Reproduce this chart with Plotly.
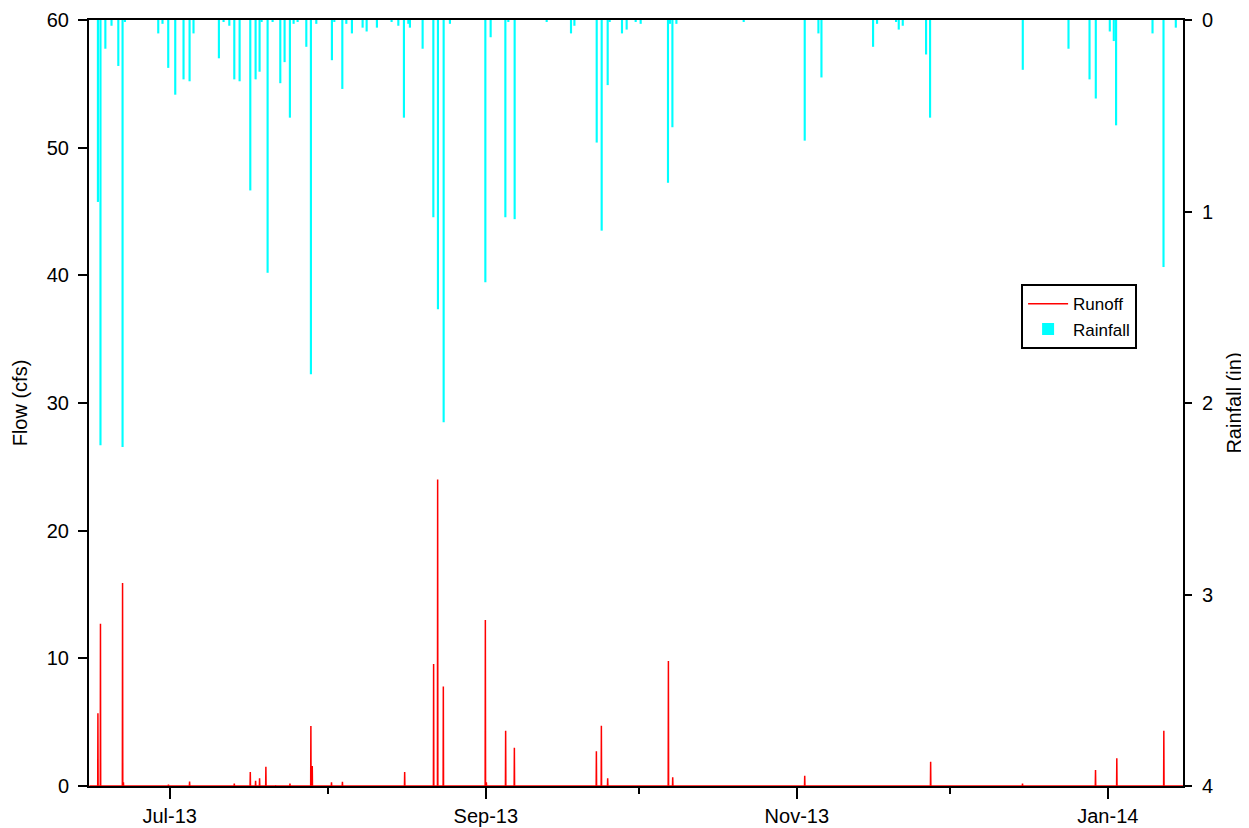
import pandas as pd
import plotly.graph_objects as go

# 降雨（英寸），按时间
RAIN_TIME = [
    '2013-06-16 22:00', '2013-06-17 10:00', '2013-06-18 09:00', '2013-06-19 14:00',
    '2013-06-20 22:00', '2013-06-21 18:00', '2013-06-22 05:00', '2013-06-28 18:00',
    '2013-06-29 14:00', '2013-06-30 17:00', '2013-07-02 02:00', '2013-07-03 17:00',
    '2013-07-04 21:30', '2013-07-05 16:00', '2013-07-10 15:30', '2013-07-11 13:30',
    '2013-07-12 16:30', '2013-07-13 16:00', '2013-07-14 17:00', '2013-07-16 19:15',
    '2013-07-17 20:15', '2013-07-18 15:00', '2013-07-19 00:30', '2013-07-20 04:45',
    '2013-07-21 04:15', '2013-07-22 16:30', '2013-07-23 12:45', '2013-07-24 13:45',
    '2013-07-25 07:10', '2013-07-26 02:00', '2013-07-27 19:00', '2013-07-28 16:40',
    '2013-07-29 18:00', '2013-08-01 19:30', '2013-08-02 06:50', '2013-08-03 20:30',
    '2013-08-04 15:20', '2013-08-05 17:40', '2013-08-07 20:00', '2013-08-08 15:00',
    '2013-08-10 15:20', '2013-08-13 12:30', '2013-08-14 20:10', '2013-08-15 22:30',
    '2013-08-16 19:15', '2013-08-17 02:45', '2013-08-19 14:30', '2013-08-21 17:00',
    '2013-08-22 14:40', '2013-08-23 17:30', '2013-08-24 23:00', '2013-08-31 21:50',
    '2013-09-01 22:45', '2013-09-04 20:00', '2013-09-05 10:00', '2013-09-06 15:45',
    '2013-09-12 22:30', '2013-09-17 17:00', '2013-09-18 09:00', '2013-09-22 18:00',
    '2013-09-23 17:25', '2013-09-24 21:40', '2013-09-25 07:00', '2013-09-27 17:00',
    '2013-09-28 15:00', '2013-09-30 09:30', '2013-10-01 09:00', '2013-10-06 17:35',
    '2013-10-07 03:00', '2013-10-07 14:20', '2013-10-08 09:10', '2013-10-21 14:00',
    '2013-11-02 13:15', '2013-11-05 05:45', '2013-11-05 20:00', '2013-11-15 23:00',
    '2013-11-16 17:45', '2013-11-20 11:15', '2013-11-20 23:55', '2013-11-21 18:45',
    '2013-11-26 08:30', '2013-11-27 03:20', '2013-12-15 07:45', '2013-12-24 07:00',
    '2013-12-28 10:00', '2013-12-29 15:30', '2014-01-01 09:25', '2014-01-02 04:15',
    '2014-01-02 15:00', '2014-01-09 18:30', '2014-01-11 22:15', '2014-01-14 08:10',
]
RAIN_IN = [
    0.95, 2.22, 0.15, 0.03, 0.24, 2.23, 0.01, 0.07,
    0.02, 0.25, 0.39, 0.31, 0.32, 0.07, 0.20, 0.01,
    0.03, 0.31, 0.32, 0.89, 0.31, 0.27, 0.01, 1.32,
    0.01, 0.33, 0.22, 0.51, 0.02, 0.01, 0.14, 1.85,
    0.02, 0.21, 0.01, 0.36, 0.02, 0.07, 0.04, 0.06,
    0.04, 0.01, 0.03, 0.51, 0.02, 0.04, 0.15, 1.03,
    1.51, 2.10, 0.02, 1.37, 0.09, 1.03, 0.01, 1.04,
    0.01, 0.07, 0.03, 0.64, 1.10, 0.34, 0.01, 0.07,
    0.05, 0.01, 0.02, 0.85, 0.02, 0.56, 0.02, 0.01,
    0.63, 0.07, 0.30, 0.14, 0.02, 0.01, 0.05, 0.03,
    0.18, 0.51, 0.26, 0.15, 0.31, 0.41, 0.06, 0.11,
    0.55, 0.07, 1.29, 0.04,
]

# 径流峰值（cfs），其余时间为 0
RUNOFF_START = '2013-06-15 06:00'
RUNOFF_END = '2014-01-15 18:00'
RUNOFF_TIME = [
    '2013-06-16 22:00', '2013-06-17 10:00', '2013-06-21 18:00', '2013-06-21 22:00',
    '2013-06-30 18:00', '2013-07-04 21:30', '2013-07-13 16:00', '2013-07-16 19:15',
    '2013-07-17 20:15', '2013-07-18 15:00', '2013-07-19 20:40', '2013-07-21 20:00',
    '2013-07-24 14:00', '2013-07-28 16:30', '2013-07-28 23:00', '2013-08-01 17:30',
    '2013-08-03 21:00', '2013-08-16 02:00', '2013-08-21 18:15', '2013-08-22 13:15',
    '2013-08-23 16:00', '2013-08-31 21:50', '2013-09-01 02:30', '2013-09-04 21:20',
    '2013-09-06 14:25', '2013-09-22 16:30', '2013-09-23 16:00', '2013-09-24 21:40',
    '2013-10-06 19:30', '2013-10-07 15:50', '2013-11-02 13:15', '2013-11-27 06:00',
    '2013-12-15 06:30', '2013-12-29 14:10', '2014-01-02 18:25', '2014-01-11 23:45',
]
RUNOFF_CFS = [
    5.7, 12.7, 15.9, 0.3,
    0.1, 0.34, 0.2, 1.1,
    0.4, 0.6, 1.5, 0.05,
    0.2, 4.7, 1.57, 0.3,
    0.33, 1.1, 9.55, 24.0,
    7.8, 13.0, 0.3, 4.33,
    3.0, 2.72, 4.72, 0.6,
    9.79, 0.68, 0.81, 1.9,
    0.2, 1.25, 2.17, 4.33,
]

MAJOR_TICKS = ['2013-07-01', '2013-09-01', '2013-11-01', '2014-01-01']
MAJOR_LABELS = ['Jul-13', 'Sep-13', 'Nov-13', 'Jan-14']
MINOR_TICKS = ['2013-08-01', '2013-10-01', '2013-12-01']

FONT = 'Arial, Liberation Sans, sans-serif'

# 径流折线：峰值两侧补 0，形成竖直尖峰
half = pd.Timedelta(hours=1)
run_x = [pd.Timestamp(RUNOFF_START)]
run_y = [0]
for t, v in zip(pd.to_datetime(RUNOFF_TIME), RUNOFF_CFS):
    run_x += [t - half, t, t + half]
    run_y += [0, v, 0]
run_x.append(pd.Timestamp(RUNOFF_END))
run_y.append(0)

fig = go.Figure()

fig.add_trace(go.Scatter(
    x=run_x, y=run_y, mode='lines', name='Runoff',
    line=dict(color='#ff0000', width=1.5),
))

fig.add_trace(go.Bar(
    x=pd.to_datetime(RAIN_TIME), y=RAIN_IN, name='Rainfall', yaxis='y2',
    width=0.42 * 86400000,
    marker=dict(color='#00ffff', line=dict(width=0)),
))

axis_common = dict(showline=True, linecolor='black', linewidth=2,
                   ticks='outside', tickcolor='black', tickwidth=2,
                   showgrid=False, zeroline=False, automargin=False,
                   tickfont=dict(size=20, family=FONT, color='black'))

# 页面 body 自带 8px 边距，画布相应缩小
fig.update_layout(
    width=1241, height=820,
    margin=dict(l=81, r=66, t=12, b=42),
    plot_bgcolor='white', paper_bgcolor='white',
    font=dict(family=FONT, size=20, color='black'),
    xaxis=dict(
        type='date', range=['2013-06-15 04:00', '2014-01-15 18:00'],
        tickmode='array', tickvals=MAJOR_TICKS, ticktext=MAJOR_LABELS,
        ticklen=11, mirror=True, layer='below traces',
        minor=dict(tickmode='array', tickvals=MINOR_TICKS, ticks='outside',
                   ticklen=6, tickwidth=2, tickcolor='black'),
        **axis_common,
    ),
    yaxis=dict(
        range=[0, 60], tickmode='array', tickvals=[0, 10, 20, 30, 40, 50, 60],
        ticklen=9, ticklabelstandoff=5,
        title=dict(text='Flow (cfs)', font=dict(size=20, family=FONT), standoff=14),
        **axis_common,
    ),
    yaxis2=dict(
        range=[4, 0], overlaying='y', side='right', anchor='x',
        tickmode='array', tickvals=[0, 1, 2, 3, 4],
        ticklen=7, ticklabelstandoff=6,
        title=dict(text='Rainfall (in)', font=dict(size=20, family=FONT), standoff=15),
        **axis_common,
    ),
    legend=dict(
        x=0.852, y=0.655, xanchor='left', yanchor='top',
        bordercolor='black', borderwidth=2, bgcolor='white',
        font=dict(size=17, family=FONT, color='black'),
        traceorder='normal', itemwidth=40,
    ),
)

fig.write_html("out.html")
